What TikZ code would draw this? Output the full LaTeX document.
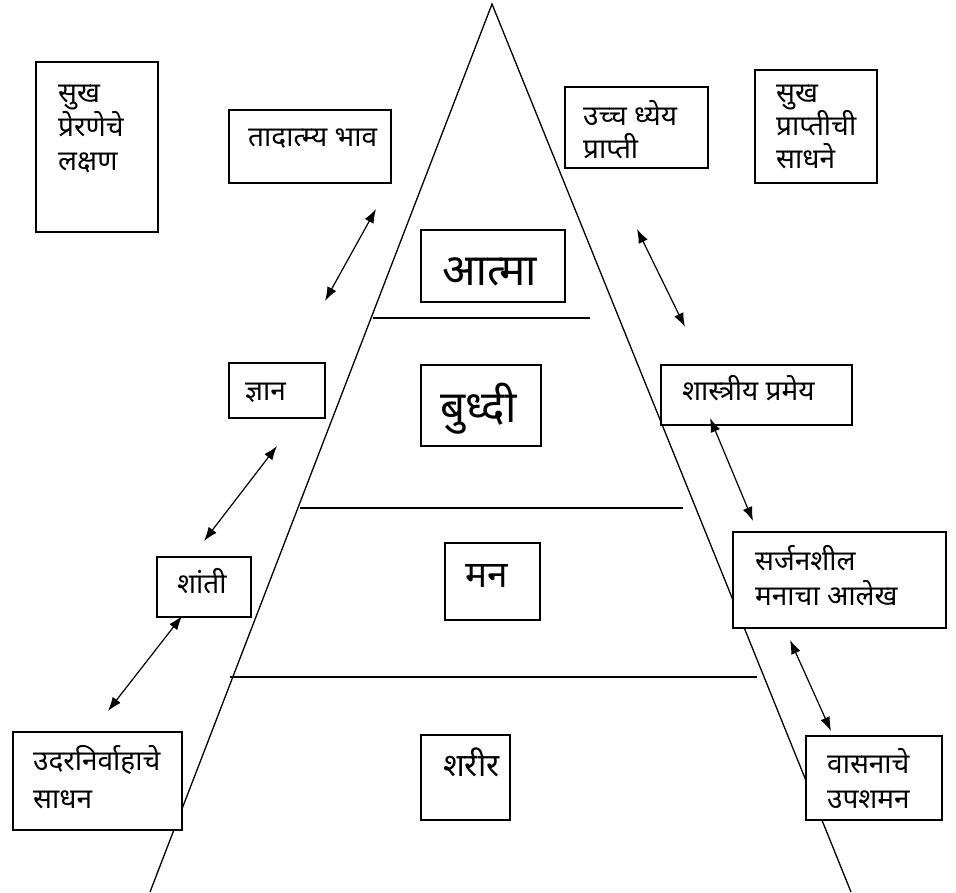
\documentclass[tikz,border=0pt]{standalone}
\usepackage{fontspec}
\setmainfont[Script=Devanagari]{Noto Sans}
\usetikzlibrary{arrows.meta}
\begin{document}
\begin{tikzpicture}[x=1pt,y=-1pt,
  box/.style={draw, line width=1.5pt, inner sep=0pt, fill=white},
  sm/.style={anchor=base west, inner sep=0pt, font=\fontsize{28}{32}\selectfont},
  md/.style={anchor=base west, inner sep=0pt, font=\fontsize{37}{42}\selectfont},
  bg/.style={anchor=base west, inner sep=0pt, font=\fontsize{44}{48}\selectfont},
  tri/.style={line width=1.3pt},
  dbl/.style={line width=1.2pt, {Latex[length=14pt,width=10pt]}-{Latex[length=14pt,width=10pt]}}]
\useasboundingbox (0,0) rectangle (956,892);
% pyramid
\coordinate (apex) at (492,4);
\coordinate (bl) at (150,892);
\coordinate (br) at (851,892);
\draw[tri] (bl) -- (apex) -- (br);
\coordinate (l1a) at (373,318); \coordinate (l1b) at (590,318);
\coordinate (l2a) at (300,508); \coordinate (l2b) at (683,508);
\coordinate (l3a) at (230,677); \coordinate (l3b) at (757,677);
\draw[tri] (l1a) -- (l1b);
\draw[tri] (l2a) -- (l2b);
\draw[tri] (l3a) -- (l3b);
% boxes
\node[box, minimum width=122, minimum height=170] (b1) at (97,147) {};
\node[box, minimum width=162, minimum height=73] (b2) at (310,146.5) {};
\node[box, minimum width=143, minimum height=81] (b3) at (636.5,127.5) {};
\node[box, minimum width=122, minimum height=113] (b4) at (816,126.5) {};
\node[box, minimum width=144, minimum height=72] (b5) at (493,266) {};
\node[box, minimum width=120, minimum height=81] (b6) at (481,405.5) {};
\node[box, minimum width=96, minimum height=55] (b7) at (277,390.5) {};
\node[box, minimum width=191, minimum height=60] (b8) at (756.5,395) {};
\node[box, minimum width=94, minimum height=60] (b9) at (204,587) {};
\node[box, minimum width=95, minimum height=77] (b10) at (492.5,581.5) {};
\node[box, minimum width=213, minimum height=96] (b11) at (839.5,580) {};
\node[box, minimum width=169, minimum height=98] (b12) at (97.5,781) {};
\node[box, minimum width=89, minimum height=85] (b13) at (465.5,777.5) {};
\node[box, minimum width=136, minimum height=84] (b14) at (874,778) {};
% texts
\node[sm] (t1a) at (58,102) {सुख};
\node[sm] (t1b) at (58,136) {प्रेरणेचे};
\node[sm] (t1c) at (58,170) {लक्षण};
\node[sm] (t2) at (248,146) {तादात्म्य भाव};
\node[sm] (t3a) at (583,125) {उच्च ध्येय};
\node[sm] (t3b) at (583,158) {प्राप्ती};
\node[sm] (t4a) at (776,102) {सुख};
\node[sm] (t4b) at (776,135) {प्राप्तीची};
\node[sm] (t4c) at (776,168) {साधने};
\node[bg] (t5) at (442,285) {आत्मा};
\node[bg] (t6) at (440,422) {बुध्दी};
\node[sm] (t7) at (245,400) {ज्ञान};
\node[sm] (t8) at (682,400) {शास्त्रीय प्रमेय};
\node[sm] (t9) at (177,593) {शांती};
\node[md] (t10) at (465,587) {मन};
\node[sm] (t11a) at (755,570) {सर्जनशील};
\node[sm] (t11b) at (755,605) {मनाचा आलेख};
\node[sm] (t12a) at (33,770) {उदरनिर्वाहाचे};
\node[sm] (t12b) at (33,808) {साधन};
\node[md, font=\fontsize{32}{36}\selectfont] (t13) at (443,776) {शरीर};
\node[sm] (t14a) at (827,773) {वासनाचे};
\node[sm] (t14b) at (827,808) {उपशमन};
% arrows
\coordinate (a1s) at (376,209); \coordinate (a1e) at (325,301);
\coordinate (a2s) at (637,229); \coordinate (a2e) at (685,327);
\coordinate (a3s) at (277,446); \coordinate (a3e) at (204,541);
\coordinate (a4s) at (710,418); \coordinate (a4e) at (753,521);
\coordinate (a5s) at (182,616); \coordinate (a5e) at (108,711);
\coordinate (a6s) at (790,640); \coordinate (a6e) at (831,731);
\draw[dbl] (a1s) -- (a1e);
\draw[dbl] (a2s) -- (a2e);
\draw[dbl] (a3s) -- (a3e);
\draw[dbl] (a4s) -- (a4e);
\draw[dbl] (a5s) -- (a5e);
\draw[dbl] (a6s) -- (a6e);
\end{tikzpicture}
\end{document}
